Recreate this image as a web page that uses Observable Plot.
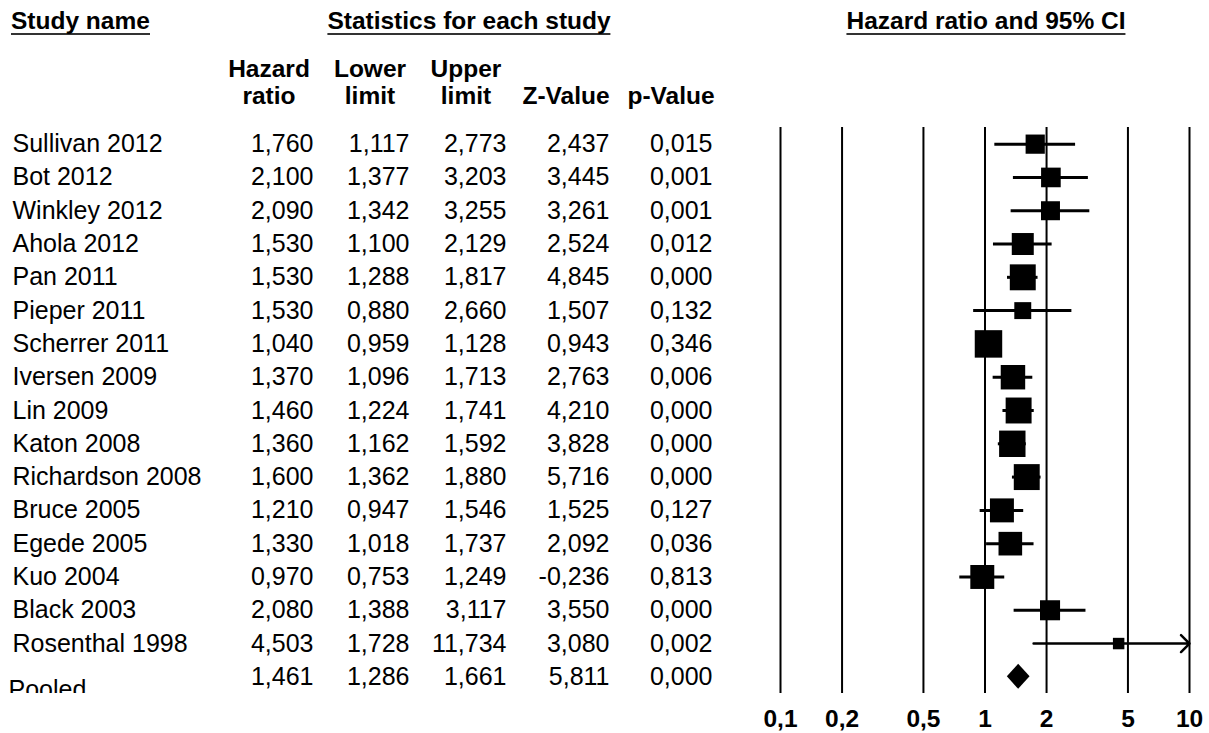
<!DOCTYPE html>
<html><head><meta charset="utf-8">
<script src="https://cdn.jsdelivr.net/npm/d3@7"></script>
<script src="https://cdn.jsdelivr.net/npm/@observablehq/plot@0.6"></script>
<style>
html,body{margin:0;padding:0;background:#fff;}
#wrap{position:relative;width:1209px;height:733px;font-family:"Liberation Sans",Arial,sans-serif;color:#000;overflow:hidden;}
#chart{position:absolute;left:0;top:0;}
.h{position:absolute;font-weight:bold;font-size:24.5px;white-space:nowrap;}
.ul{line-height:24px;border-bottom:2px solid #333;}
.c{transform:translateX(-50%);}
.col{line-height:27px;text-align:center;transform:translateX(-50%);}
</style></head><body>
<div id="wrap">
  <div id="chart"></div>
  <div class="h ul" style="left:11px;top:8.7px;">Study name</div>
  <div class="h ul c" style="left:469px;top:8.7px;">Statistics for each study</div>
  <div class="h ul c" style="left:986px;top:8.7px;">Hazard ratio and 95% CI</div>
  <div class="h col" style="left:269px;top:55px;">Hazard<br>ratio</div>
  <div class="h col" style="left:370px;top:55px;">Lower<br>limit</div>
  <div class="h col" style="left:466px;top:55px;">Upper<br>limit</div>
  <div class="h col" style="left:566px;top:82px;">Z-Value</div>
  <div class="h col" style="left:671px;top:82px;">p-Value</div>
</div>
<script>
// ---- data ----
const studyNames = ["Sullivan 2012","Bot 2012","Winkley 2012","Ahola 2012","Pan 2011","Pieper 2011","Scherrer 2011","Iversen 2009","Lin 2009","Katon 2008","Richardson 2008","Bruce 2005","Egede 2005","Kuo 2004","Black 2003","Rosenthal 1998"];
const hazardRatio = [1.760,2.100,2.090,1.530,1.530,1.530,1.040,1.370,1.460,1.360,1.600,1.210,1.330,0.970,2.080,4.503];
const lowerLimit  = [1.117,1.377,1.342,1.100,1.288,0.880,0.959,1.096,1.224,1.162,1.362,0.947,1.018,0.753,1.388,1.728];
const upperLimit  = [2.773,3.203,3.255,2.129,1.817,2.660,1.128,1.713,1.741,1.592,1.880,1.546,1.737,1.249,3.117,11.734];
const zValue      = [2.437,3.445,3.261,2.524,4.845,1.507,0.943,2.763,4.210,3.828,5.716,1.525,2.092,-0.236,3.550,3.080];
const pValue      = [0.015,0.001,0.001,0.012,0.000,0.132,0.346,0.006,0.000,0.000,0.000,0.127,0.036,0.813,0.000,0.002];
// relative weights (%) estimated from the square areas
const relWeight   = [4.5,4.7,4.4,5.9,8.2,3.5,9.2,7.3,8.2,8.5,8.2,7.0,6.8,7.0,4.9,1.6];
const pooledName = "Pooled";
const pooledStats = [1.461,1.286,1.661,5.811,0.000]; // hr, lower, upper, z, p
const xTicks = [0.1,0.2,0.5,1,2,5,10];

// ---- build ----
const loc = d3.formatLocale({decimal:",", thousands:".", grouping:[3], currency:["",""], minus:"-"});
const fmt = loc.format(".3f");
const tickFormat = loc.format("~g");
const xMin = xTicks[0], xMax = xTicks[xTicks.length-1];

const rows = studyNames.map((name,i)=>({i, name, hr:hazardRatio[i], lower:lowerLimit[i], upper:upperLimit[i], z:zValue[i], p:pValue[i], w:relWeight[i]}));
const pooledRow = {i: rows.length, name: pooledName, hr:pooledStats[0], lower:pooledStats[1], upper:pooledStats[2], z:pooledStats[3], p:pooledStats[4]};
const table = [...rows, pooledRow];

const H = 0.375; // diamond half height (rows)
const diamond = [
  {y: pooledRow.i - H, x1: pooledRow.hr, x2: pooledRow.hr},
  {y: pooledRow.i, x1: pooledRow.lower, x2: pooledRow.upper},
  {y: pooledRow.i + H, x1: pooledRow.hr, x2: pooledRow.hr}
];

const cols = [
  {key:"hr", right:313},
  {key:"lower", right:409},
  {key:"upper", right:506},
  {key:"z", right:609},
  {key:"p", right:712}
];

const chart = Plot.plot({
  width: 1209, height: 733,
  marginLeft: 0, marginRight: 20, marginTop: 127, marginBottom: 40,
  style: {fontFamily: '"Liberation Sans", Arial, sans-serif', fontSize: "25px", color: "#000", background: "#fff", overflow: "visible"},
  x: {type: "log", domain: [xMin, xMax], range: [780, 1189], axis: null},
  y: {domain: [-0.5, table.length - 0.5], reverse: true, axis: null},
  r: {type: "sqrt", domain: [0, 9.2], range: [0, 15.5]},
  marks: [
    Plot.ruleX(xTicks, {stroke: "#000", strokeWidth: 2}),
    Plot.text(xTicks, {x: d => d, text: d => tickFormat(d), frameAnchor: "bottom", lineAnchor: "top", dy: 16, fontSize: 24.5, fontWeight: "bold", fill: "#000"}),
    Plot.ruleY(rows.filter(d => d.upper <= xMax), {y: "i", x1: "lower", x2: "upper", stroke: "#000", strokeWidth: 3}),
    Plot.arrow(rows.filter(d => d.upper > xMax), {x1: "lower", x2: () => xMax, y1: "i", y2: "i", stroke: "#000", strokeWidth: 2.5, headAngle: 90, headLength: 7.2}),
    Plot.dot(rows, {x: "hr", y: "i", r: "w", symbol: "square", fill: "#000"}),
    Plot.areaX(diamond, {y: "y", x1: "x1", x2: "x2", fill: "#000"}),
    Plot.text(rows, {y: "i", text: "name", frameAnchor: "left", textAnchor: "start", dx: 12, fill: "#000"}),
    Plot.text([pooledRow], {y: "i", text: "name", frameAnchor: "left", textAnchor: "start", dx: 8, dy: 13, clip: true, fill: "#000"}),
    ...cols.map(c => Plot.text(table, {y: "i", text: d => fmt(d[c.key]), frameAnchor: "left", textAnchor: "end", dx: c.right, fill: "#000"}))
  ]
});
document.getElementById("chart").appendChild(chart);
</script>
</body></html>
